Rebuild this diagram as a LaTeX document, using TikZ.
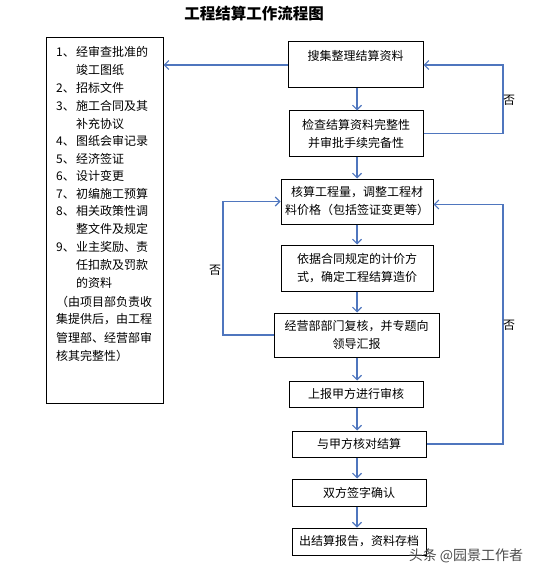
\documentclass[tikz,border=0pt]{standalone}
\usepackage{fontspec}
\setmainfont{Noto Sans CJK SC}
\usetikzlibrary{arrows.meta}
\definecolor{flowblue}{RGB}{79,118,190}
\newcommand\numlab[1]{\makebox[20pt][l]{#1}}
\begin{document}
\begin{tikzpicture}[x=1pt,y=-1pt,
  box/.style={draw=black, line width=1pt, inner sep=0pt, align=center, font=\fontsize{12}{18}\selectfont},
  arr/.style={draw=flowblue, line width=1.1pt, -{Straight Barb[length=4.5pt,width=9pt]}},
  lbl/.style={inner sep=0pt, font=\fontsize{12}{14}\selectfont},
  item/.style={anchor=west, inner sep=0pt, font=\fontsize{12}{14}\selectfont}]
\useasboundingbox (0,0) rectangle (534,575);
\node[inner sep=0pt, font=\fontsize{15.5}{18}\selectfont\bfseries] (title) at (254,14) {工程结算工作流程图};

% left list box
\node[box, minimum width=117, minimum height=365] (lbox) at (104.5,220.5) {};
\node[item] (i1)  at (56,52)    {\numlab{1、}经审查批准的};
\node[item] (i2)  at (76,70)    {竣工图纸};
\node[item] (i3)  at (56,88)    {\numlab{2、}招标文件};
\node[item] (i4)  at (56,106)   {\numlab{3、}施工合同及其};
\node[item] (i5)  at (76,123.5) {补充协议};
\node[item] (i6)  at (56,141)   {\numlab{4、}图纸会审记录};
\node[item] (i7)  at (56,158.5) {\numlab{5、}经济签证};
\node[item] (i8)  at (56,176)   {\numlab{6、}设计变更};
\node[item] (i9)  at (56,193.5) {\numlab{7、}初编施工预算};
\node[item] (i10) at (56,211)   {\numlab{8、}相关政策性调};
\node[item] (i11) at (76,229)   {整文件及规定};
\node[item] (i12) at (56,247)   {\numlab{9、}业主奖励、责};
\node[item] (i13) at (76,265)   {任扣款及罚款};
\node[item] (i14) at (76,283)   {的资料};
\node[item] (i15) at (56,302)   {（由项目部负责收};
\node[item] (i16) at (56,319.5) {集提供后，由工程};
\node[item] (i17) at (56,337.5) {管理部、经营部审};
\node[item] (i18) at (56,356)   {核其完整性）};

% flow boxes
\node[box, minimum width=135, minimum height=46] (b1) at (355.5,65) {};
\node[lbl] (t1) at (355.5,56) {搜集整理结算资料};
\node[box, minimum width=134, minimum height=45] (b2) at (356,133.5) {检查结算资料完整性\\并审批手续完备性};
\node[box, minimum width=152, minimum height=45] (b3) at (357,201.5) {核算工程量，调整工程材\\料价格（包括签证变更等）};
\node[box, minimum width=152, minimum height=46] (b4) at (357,268) {依据合同规定的计价方\\式，确定工程结算造价};
\node[box, minimum width=165, minimum height=44] (b5) at (356.5,335) {经营部部门复核，并专题向\\领导汇报};
\node[box, minimum width=134, minimum height=26] (b6) at (356,394) {上报甲方进行审核};
\node[box, minimum width=134, minimum height=26] (b7) at (359,444) {与甲方核对结算};
\node[box, minimum width=134, minimum height=27] (b8) at (359,492.5) {双方签字确认};
\node[box, minimum width=134, minimum height=27] (b9) at (359,541.5) {出结算报告，资料存档};

% vertical arrows
\coordinate (ax) at (357,0);
\draw[arr] (ax |- b1.south) -- (ax |- b2.north);
\draw[arr] (ax |- b2.south) -- (ax |- b3.north);
\draw[arr] (ax |- b3.south) -- (ax |- b4.north);
\draw[arr] (ax |- b4.south) -- (ax |- b5.north);
\draw[arr] (ax |- b5.south) -- (ax |- b6.north);
\draw[arr] (ax |- b6.south) -- (ax |- b7.north);
\draw[arr] (ax |- b7.south) -- (ax |- b8.north);
\draw[arr] (ax |- b8.south) -- (ax |- b9.north);

% to the list
\draw[arr] (b1.west) -- (b1.west -| lbox.east);

% feedback loops
\coordinate (rx) at (503,0);
\coordinate (lx) at (223,0);
\draw[arr] (b2.east) -- (rx |- b2.east) |- (b1.east);
\draw[arr] (b7.east) -- (rx |- b7.east) |- ([yshift=-3pt]b3.east);
\draw[arr] (b5.west) -- (lx |- b5.west) |- (b3.west);
\node[lbl] (n1) at (509,100) {否};
\node[lbl] (n2) at (215,270) {否};
\node[lbl] (n3) at (509,325) {否};

% watermark
\node[inner sep=0pt, text=black!70, font=\fontsize{14}{16}\selectfont] (wm) at (466,556) {头条 @园景工作者};
\end{tikzpicture}
\end{document}
